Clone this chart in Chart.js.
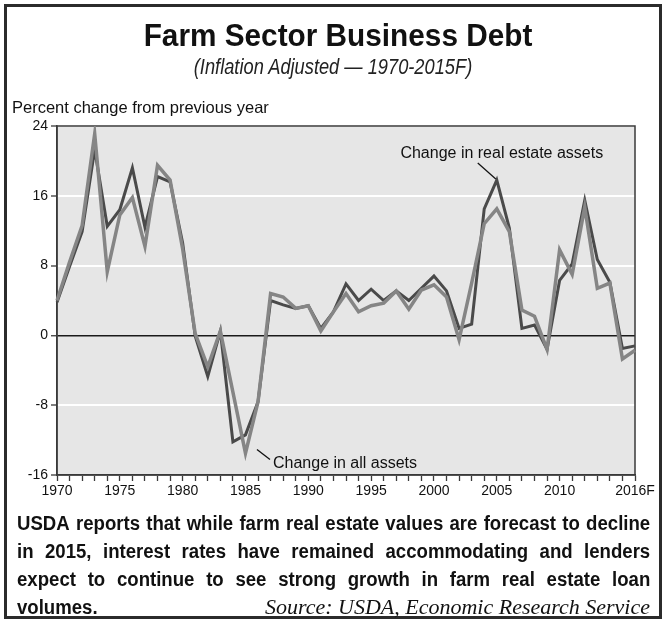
<!DOCTYPE html>
<html><head><meta charset="utf-8">
<script src="https://cdn.jsdelivr.net/npm/chart.js@4.4.1/dist/chart.umd.min.js"></script>
<style>
html,body{margin:0;padding:0;background:#fff;}
#wrap{position:relative;width:666px;height:626px;overflow:hidden;font-family:"Liberation Sans",Arial,sans-serif;color:#111;}
#chart{position:absolute;left:0;top:0;}
#frame{position:absolute;left:4px;top:4px;width:652px;height:609px;border:3px solid #2b2b2b;pointer-events:none;}
.t{position:absolute;white-space:nowrap;}
#title{left:5px;width:666px;text-align:center;top:19px;font:bold 32px/32px "Liberation Sans",Arial,sans-serif;color:#111;transform:scaleX(0.93);transform-origin:333px 0;}
#subtitle{left:0;width:666px;text-align:center;top:56px;font:italic 22px/22px "Liberation Sans",Arial,sans-serif;color:#222;transform:scaleX(0.83);transform-origin:333px 0;}
#ytitle{left:12px;top:99px;font:16.5px/16px "Liberation Sans",Arial,sans-serif;color:#111;}
.pl{position:absolute;left:17px;width:681px;display:flex;justify-content:space-between;font:bold 20px/20px "Liberation Sans",Arial,sans-serif;color:#111;white-space:nowrap;transform:scaleX(0.93);transform-origin:0 0;}
.last{position:absolute;left:17px;width:633px;display:flex;justify-content:space-between;align-items:baseline;white-space:nowrap;}
#vol{font:bold 20px/20px "Liberation Sans",Arial,sans-serif;color:#111;transform:scaleX(0.93);transform-origin:0 0;}
#src{font:italic 22px/20px "Liberation Serif","Times New Roman",serif;color:#111;}
</style></head>
<body><div id="wrap">
<canvas id="chart" width="666" height="626"></canvas>
<div id="frame"></div>
<div class="t" id="title">Farm Sector Business Debt</div>
<div class="t" id="subtitle">(Inflation Adjusted — 1970-2015F)</div>
<div class="t" id="ytitle">Percent change from previous year</div>
<div class="pl" style="top:513px">USDA reports that while farm real estate values are forecast to decline</div>
<div class="pl" style="top:541px">in 2015, interest rates have remained accommodating and lenders</div>
<div class="pl" style="top:569px">expect to continue to see strong growth in farm real estate loan</div>
<div class="last" style="top:597px"><span id="vol">volumes.</span><span id="src">Source: USDA, Economic Research Service</span></div>
</div>
<script>
// ---- data ----
const years = [1970,1971,1972,1973,1974,1975,1976,1977,1978,1979,1980,1981,1982,1983,1984,1985,1986,1987,1988,1989,1990,1991,1992,1993,1994,1995,1996,1997,1998,1999,2000,2001,2002,2003,2004,2005,2006,2007,2008,2009,2010,2011,2012,2013,2014,2015,2016];
const xLabels = years.map(y => y === 2016 ? '2016F' : String(y));
const shownXTicks = ['1970','1975','1980','1985','1990','1995','2000','2005','2010','2016F'];
const yTickValues = [-16,-8,0,8,16,24];
const realEstateAssets = [3.8,7.9,11.9,21.3,12.5,14.4,19.2,12.4,18.2,17.6,10.6,-0.1,-4.7,0.5,-12.2,-11.4,-7.6,4.0,3.5,3.1,3.4,0.8,2.7,5.9,4.0,5.3,4.0,5.1,4.0,5.4,6.8,5.1,0.8,1.3,14.5,17.8,12.3,0.8,1.2,-1.6,6.3,8.2,15.5,8.7,6.1,-1.5,-1.2];
const allAssets = [4.0,8.4,12.6,23.1,7.3,13.8,15.8,10.2,19.5,17.8,9.9,0.2,-3.6,0.5,-6.5,-13.5,-7.6,4.8,4.4,3.1,3.4,0.5,2.7,4.8,2.7,3.4,3.7,5.1,3.0,5.2,5.8,4.4,-0.5,6.0,12.8,14.5,11.9,2.9,2.2,-1.6,9.8,7.0,14.7,5.4,6.0,-2.7,-1.7];
const seriesNames = ['Change in real estate assets','Change in all assets'];
const realEstateLabelYear = 2005;
const allAssetsLabelYear = 1985;

// justify lines by wrapping words
document.querySelectorAll('.pl').forEach(d => {
  const words = d.textContent.trim().split(/\s+/);
  d.innerHTML = words.map(w => '<span>' + w + '</span>').join('');
});

const plotDecor = {
  id: 'plotDecor',
  beforeDraw(chart) {
    const {ctx, chartArea: a} = chart;
    ctx.save();
    ctx.fillStyle = '#e6e6e6';
    ctx.fillRect(a.left, a.top, a.right - a.left, a.bottom - a.top);
    ctx.restore();
  },
  beforeDatasetsDraw(chart) {
    const {ctx, chartArea: a} = chart;
    ctx.save();
    ctx.strokeStyle = '#3a3a3a';
    ctx.lineWidth = 1.5;
    ctx.strokeRect(a.left, a.top, a.right - a.left, a.bottom - a.top);
    ctx.restore();
  },
  afterDatasetsDraw(chart) {
    const {ctx} = chart;
    const xs = chart.scales.x, ys = chart.scales.y;
    ctx.save();
    ctx.strokeStyle = '#111';
    ctx.lineWidth = 1.3;
    ctx.fillStyle = '#111';
    ctx.font = '16px "Liberation Sans", Arial, sans-serif';
    let i = years.indexOf(realEstateLabelYear);
    let px = xs.getPixelForValue(i), py = ys.getPixelForValue(realEstateAssets[i]);
    ctx.beginPath(); ctx.moveTo(px - 19, py - 17); ctx.lineTo(px - 1, py - 1); ctx.stroke();
    ctx.textAlign = 'center'; ctx.textBaseline = 'middle';
    ctx.fillText(seriesNames[0], px + 5, py - 27);
    i = years.indexOf(allAssetsLabelYear);
    px = xs.getPixelForValue(i); py = ys.getPixelForValue(allAssets[i]);
    ctx.beginPath(); ctx.moveTo(px + 11.5, py - 3.6); ctx.lineTo(px + 24.5, py + 6.4); ctx.stroke();
    ctx.textAlign = 'left';
    ctx.fillText(seriesNames[1], px + 27.5, py + 10.5);
    ctx.restore();
  }
};

new Chart(document.getElementById('chart'), {
  type: 'line',
  data: {
    labels: xLabels,
    datasets: [
      {label: seriesNames[1], data: allAssets, borderColor: '#858585', borderWidth: 3.5, pointRadius: 0, tension: 0, borderJoinStyle: 'miter', order: 0},
      {label: seriesNames[0], data: realEstateAssets, borderColor: '#4a4a4a', borderWidth: 3, pointRadius: 0, tension: 0, borderJoinStyle: 'miter', order: 1}
    ]
  },
  options: {
    responsive: false,
    animation: false,
    devicePixelRatio: 1,
    layout: {padding: {left: 0, right: 31, top: 126, bottom: 125}},
    plugins: {legend: {display: false}, title: {display: false}, tooltip: {enabled: false}},
    scales: {
      x: {
        offset: false,
        grid: {display: true, drawOnChartArea: false, drawTicks: true, tickLength: 6, tickColor: '#3a3a3a', tickWidth: 1.3},
        border: {display: true, color: '#3a3a3a', width: 1.5},
        ticks: {autoSkip: false, maxRotation: 0, minRotation: 0, padding: 2, color: '#111',
          font: {family: '"Liberation Sans", Arial, sans-serif', size: 14},
          callback: function(v) { const l = xLabels[v]; return shownXTicks.includes(l) ? l : ''; }},
        afterFit(s) { s.height = 26; }
      },
      y: {
        min: -16, max: 24,
        afterBuildTicks(s) { s.ticks = yTickValues.map(v => ({value: v})); },
        grid: {display: true, drawTicks: true, tickLength: 6, tickColor: '#3a3a3a', tickWidth: 1.3,
          color: c => (c.tick && c.tick.value === 0) ? '#1a1a1a' : '#ffffff',
          lineWidth: c => (c.tick && c.tick.value === 0) ? 1.5 : 2},
        border: {display: true, color: '#3a3a3a', width: 1.5},
        ticks: {padding: 3, color: '#111', font: {family: '"Liberation Sans", Arial, sans-serif', size: 14}},
        afterFit(s) { s.width = 57; }
      }
    }
  },
  plugins: [plotDecor]
});
</script>
</body></html>
